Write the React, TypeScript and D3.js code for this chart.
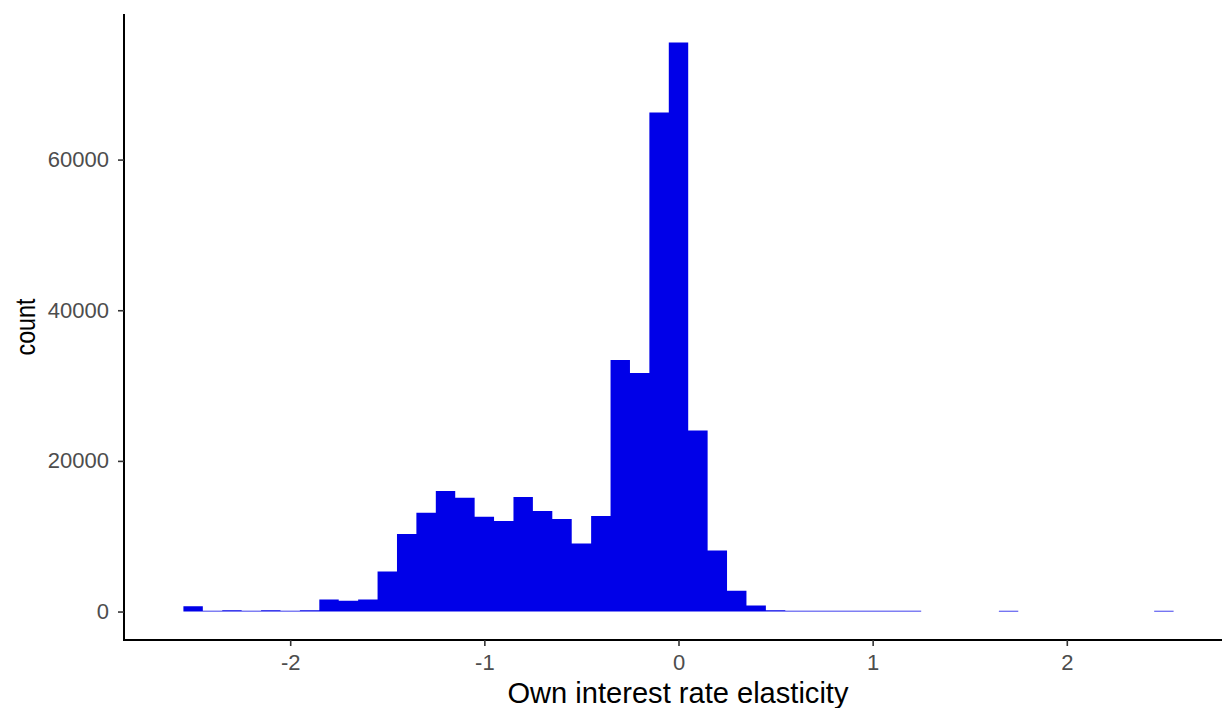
import React, { useRef, useEffect } from 'react';
import * as d3 from 'd3';

// histogram bins: centres from -2.5 to 2.5, width 0.1
const binCenters: number[] = d3.range(51).map(i => Math.round((-2.5 + i * 0.1) * 10) / 10);
const counts: number[] = [
  700, 90, 170, 90, 170, 90, 170, 1600, 1420, 1600,
  5300, 10300, 13100, 16000, 15100, 12570, 12030, 15220, 13360, 12300,
  9020, 12700, 33400, 31680, 66260, 75550, 24020, 8100, 2750, 800,
  180, 110, 100, 100, 100, 100, 100, 100, 0, 0,
  0, 0, 100, 0, 0, 0, 0, 0, 0, 0,
  100,
];
const xTicks = [-2, -1, 0, 1, 2];
const yTicks = [0, 20000, 40000, 60000];
const binWidth = 0.1;

const W = 1222;
const H = 708;
// panel runs a little past the right edge of the picture
const panel = { left: 124, right: 1233, top: 14, bottom: 640 };
const font = 'Liberation Sans, Arial, Helvetica, sans-serif';

export default function App() {
  const ref = useRef<SVGSVGElement>(null);

  useEffect(() => {
    const svg = d3.select(ref.current);
    svg.selectAll('*').remove();

    const lo = binCenters[0] - binWidth / 2;
    const hi = binCenters[binCenters.length - 1] + binWidth / 2;
    const xpad = (hi - lo) * 0.06;
    const ymax = d3.max(counts)!;

    const x = d3.scaleLinear().domain([lo - xpad, hi + xpad]).range([panel.left, panel.right]);
    const y = d3.scaleLinear().domain([-ymax * 0.05, ymax * 1.05]).range([panel.bottom, panel.top]);

    // one step outline per run of non-empty bins, so no seams between bars
    const runs: { x: number; n: number }[][] = [];
    let cur: { x: number; n: number }[] | null = null;
    binCenters.forEach((c, i) => {
      const n = counts[i];
      if (n > 0) {
        if (!cur) { cur = []; runs.push(cur); }
        cur.push({ x: c - binWidth / 2, n }, { x: c + binWidth / 2, n });
      } else {
        cur = null;
      }
    });

    const area = d3.area<{ x: number; n: number }>()
      .x(d => x(d.x))
      .y0(y(0))
      .y1(d => y(d.n));

    svg.append('g')
      .selectAll('path')
      .data(runs)
      .enter()
      .append('path')
      .attr('d', d => area(d))
      .attr('fill', '#0000E8');

    const xAxis = svg.append('g')
      .attr('transform', `translate(0,${panel.bottom})`)
      .call(d3.axisBottom(x).tickValues(xTicks).tickSize(6).tickPadding(8).tickFormat(d => String(d)));
    const yAxis = svg.append('g')
      .attr('transform', `translate(${panel.left},0)`)
      .call(d3.axisLeft(y).tickValues(yTicks).tickSize(6).tickPadding(9).tickFormat(d => String(d)));

    [xAxis, yAxis].forEach(g => {
      g.select('.domain').attr('stroke', '#000').attr('stroke-width', 2);
      g.selectAll('.tick line').attr('stroke', '#333').attr('stroke-width', 1.6);
      g.selectAll('.tick text')
        .attr('fill', '#4D4D4D')
        .style('font-family', font)
        .style('font-size', '22px');
    });
    xAxis.select('.domain').attr('d', `M${panel.left - 1},0H${W}`);
    yAxis.select('.domain').attr('d', `M0,${panel.top}V${panel.bottom + 1}`);

    svg.append('text')
      .attr('x', 678)
      .attr('y', 703)
      .attr('text-anchor', 'middle')
      .attr('textLength', 341)
      .attr('lengthAdjust', 'spacingAndGlyphs')
      .style('font-family', font)
      .style('font-size', '29px')
      .text('Own interest rate elasticity');

    svg.append('text')
      .attr('transform', `translate(35,${(panel.top + panel.bottom) / 2}) rotate(-90)`)
      .attr('text-anchor', 'middle')
      .attr('textLength', 57)
      .attr('lengthAdjust', 'spacingAndGlyphs')
      .style('font-family', font)
      .style('font-size', '28px')
      .text('count');
  }, []);

  return (
    <svg
      ref={ref}
      width={W}
      height={H}
      style={{ position: 'absolute', left: 0, top: 0, background: '#fff' }}
    />
  );
}
